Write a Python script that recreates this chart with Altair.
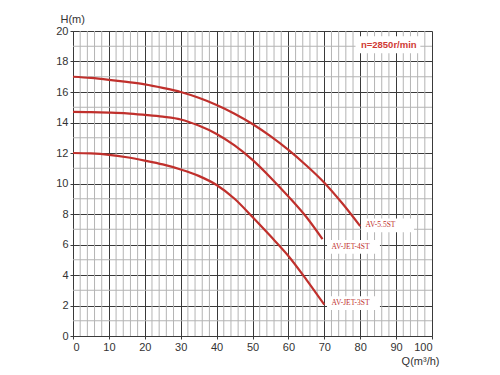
import altair as alt
import pandas as pd

# ---- data ----
q_55 = [0, 5, 10, 15, 20, 25, 30, 35, 40, 45, 50, 55, 60, 65, 70, 75, 80]
h_55 = [17.0, 16.92, 16.8, 16.66, 16.5, 16.27, 16.0, 15.62, 15.15, 14.58, 13.9, 13.1, 12.2, 11.18, 10.05, 8.7, 7.2]

q_4 = [0, 5, 10, 15, 20, 25, 30, 35, 40, 45, 50, 55, 60, 65, 69.5]
h_4 = [14.7, 14.68, 14.65, 14.6, 14.5, 14.38, 14.2, 13.8, 13.25, 12.5, 11.55, 10.4, 9.15, 7.8, 6.35]

q_3 = [0, 5, 10, 15, 20, 25, 30, 35, 40, 45, 50, 55, 60, 65, 70]
h_3 = [12.0, 11.97, 11.88, 11.72, 11.5, 11.25, 10.92, 10.5, 9.9, 9.0, 7.8, 6.55, 5.25, 3.7, 2.05]

series_names = ["AV-5.5ST", "AV-JET-4ST", "AV-JET-3ST"]

label_text = ["AV-5.5ST", "AV-JET-4ST", "AV-JET-3ST"]
label_q = [81.5, 72, 72]
label_h = [7.25, 5.85, 2.15]

speed_text = ["n=2850r/min"]
speed_q = [80.2]
speed_h = [19.1]

x_major = list(range(0, 101, 10))
y_major = list(range(0, 21, 2))
x_minor = [v for v in range(0, 101, 2) if v % 10 != 0]
y_minor = [v for v in range(0, 21, 1) if v % 2 != 0]

RED = "#c0302c"

rows = []
for name, qs, hs in zip(series_names, [q_55, q_4, q_3], [h_55, h_4, h_3]):
    for q, h in zip(qs, hs):
        rows.append({"series": name, "Q": q, "H": h})
curves_df = pd.DataFrame(rows)
labels_df = pd.DataFrame({"text": label_text, "Q": label_q, "H": label_h})
speed_df = pd.DataFrame({"text": speed_text, "Q": speed_q, "H": speed_h})
xminor_df = pd.DataFrame({"Q": x_minor})
yminor_df = pd.DataFrame({"H": y_minor})

xscale = alt.Scale(domain=[0, 100], nice=False, zero=False)
yscale = alt.Scale(domain=[0, 20], nice=False, zero=False)

axis_common = dict(
    grid=True, gridColor="#3a3a3a", gridWidth=1, gridOpacity=1,
    domainColor="#3a3a3a", tickColor="#3a3a3a", tickSize=3,
    labelFont="Liberation Sans", labelFontSize=11, labelColor="#333333",
    labelPadding=2, labelOverlap=False, titleFont="Liberation Sans", titleFontSize=11,
    titleFontWeight="normal", titleColor="#333333",
)

x_axis = alt.Axis(values=x_major, title="Q(m³/h)", titleAngle=0,
                  titleAlign="right", titleX=366, titleY=28,
                  titleBaseline="alphabetic", **axis_common)
y_axis = alt.Axis(values=y_major, title="H(m)", titleAngle=0,
                  titleAlign="left", titleX=-13, titleY=-9,
                  titleBaseline="alphabetic", **axis_common)

X = alt.X("Q:Q", scale=xscale, axis=x_axis)
Y = alt.Y("H:Q", scale=yscale, axis=y_axis)

minor_v = alt.Chart(xminor_df).mark_rule(color="#b4b4b4", strokeWidth=1).encode(x=X)
minor_h = alt.Chart(yminor_df).mark_rule(color="#b4b4b4", strokeWidth=1).encode(y=Y)

box_shape = "M-1,-0.26H1V0.26H-1Z"
label_boxes = alt.Chart(labels_df).mark_point(
    shape=box_shape, filled=True, color="white", opacity=1, size=2800, xOffset=22, strokeWidth=0
).encode(x=X, y=Y)

speed_box = alt.Chart(speed_df).mark_point(
    shape=box_shape, filled=True, color="white", opacity=1, size=4200, xOffset=27, strokeWidth=0
).encode(x=X, y=Y)

lines = alt.Chart(curves_df).mark_line(
    color=RED, strokeWidth=2.2, interpolate="monotone"
).encode(x=X, y=Y, detail="series:N")

labels = alt.Chart(labels_df).mark_text(
    align="left", baseline="middle", font="Liberation Serif", fontSize=7.5, color=RED
).encode(x=X, y=Y, text="text:N")

speed = alt.Chart(speed_df).mark_text(
    align="left", baseline="middle", font="Liberation Sans", fontSize=9.5,
    fontWeight="bold", color="#d03a34"
).encode(x=X, y=Y, text="text:N")

chart = alt.layer(minor_v, minor_h, label_boxes, speed_box, lines, labels, speed).properties(
    width=359, height=305,
    autosize=alt.AutoSizeParams(type="none"),
    padding={"left": 65, "top": 23, "right": 60, "bottom": 31},
).configure_view(stroke="#3a3a3a", strokeWidth=1).configure(background="white")

chart.save("out.html", embed_options={"renderer": "svg", "actions": False})
